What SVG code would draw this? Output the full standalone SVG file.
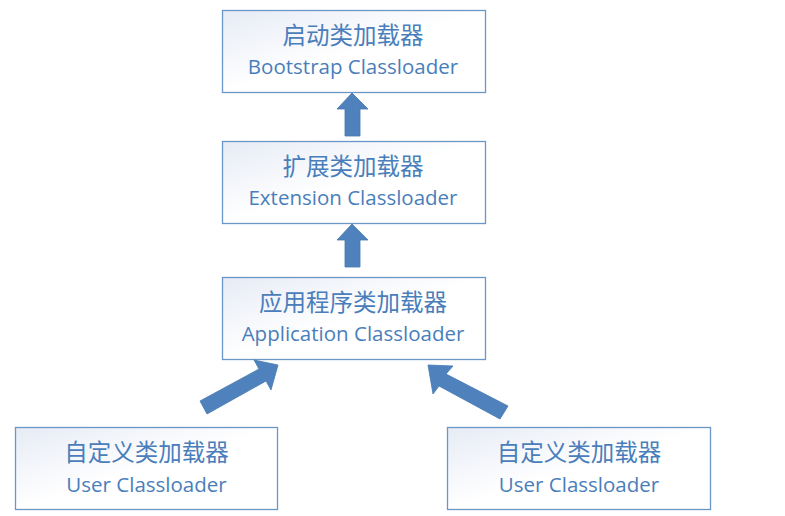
<svg xmlns="http://www.w3.org/2000/svg" width="785" height="516" viewBox="0 0 785 516">
<style>
.box{fill:url(#g);stroke:#6a96c8;stroke-width:1.3}
.zh{font-family:"Noto Sans CJK SC",sans-serif;font-size:23.5px;fill:#4a7ebb;text-anchor:middle}
.en{font-family:"Open Sans","Noto Sans",sans-serif;font-size:20.5px;fill:#4a7ebb;text-anchor:middle}
.arr{fill:#4f81bd;stroke:#4478b0;stroke-width:0.8}
</style>
<defs>
<linearGradient id="g" x1="0" y1="0" x2="1" y2="1">
<stop offset="0" stop-color="#e6ebf5"/>
<stop offset="0.5" stop-color="#ffffff"/>
<stop offset="1" stop-color="#ffffff"/>
</linearGradient>
</defs>
<rect width="785" height="516" fill="#fff"/>
<g id="bootstrap">
<rect class="box" x="222.5" y="10.5" width="263" height="82"/>
<text class="zh" x="353" y="44">启动类加载器</text>
<text class="en" x="353" y="74">Bootstrap Classloader</text>
</g>
<g id="extension">
<rect class="box" x="222.5" y="141.5" width="263" height="82"/>
<text class="zh" x="353" y="175">扩展类加载器</text>
<text class="en" x="353" y="205">Extension Classloader</text>
</g>
<g id="application">
<rect class="box" x="222.5" y="277.5" width="263" height="82"/>
<text class="zh" x="353" y="311">应用程序类加载器</text>
<text class="en" x="353" y="341">Application Classloader</text>
</g>
<g id="user1">
<rect class="box" x="15.5" y="427.5" width="262" height="82"/>
<text class="zh" x="146.5" y="461">自定义类加载器</text>
<text class="en" x="146.5" y="492">User Classloader</text>
</g>
<g id="user2">
<rect class="box" x="447.5" y="427.5" width="263" height="82"/>
<text class="zh" x="579" y="461">自定义类加载器</text>
<text class="en" x="579" y="492">User Classloader</text>
</g>
<g id="connectors">
<path class="arr" d="M352,93 L368,109 L360,109 L360,136 L345,136 L345,109 L337,109 Z"/>
<path class="arr" d="M352,224 L368,240 L360,240 L360,267 L345,267 L345,240 L337,240 Z"/>
<path class="arr" d="M278,365 L271,390 L266,381 L207,414 L200,401 L259,369 L254,360 Z"/>
<path class="arr" d="M428,365 L453,366 L446,374 L508,406 L500,419 L439,386 L433,394 Z"/>
</g>
</svg>
